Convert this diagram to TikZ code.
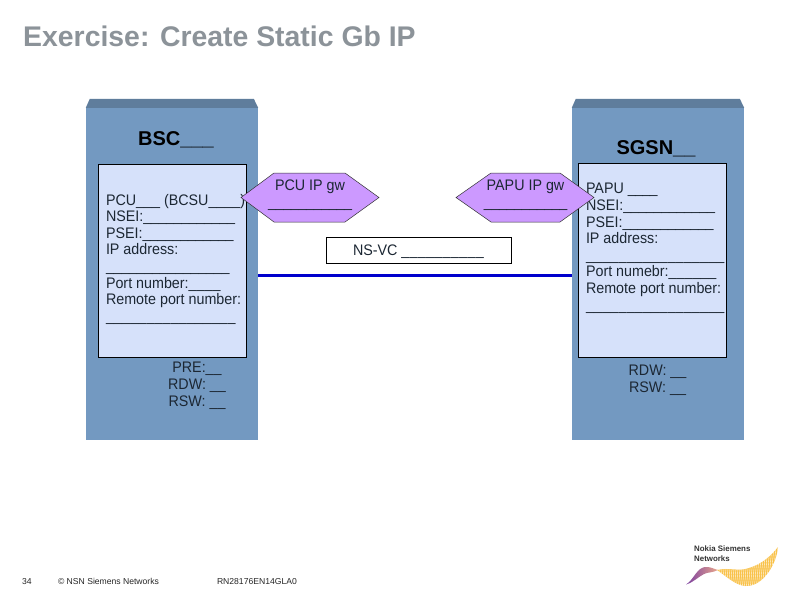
\documentclass[tikz,border=0pt]{standalone}
\usepackage{fontspec}
\setmainfont{Liberation Sans}
\newfontfamily\narrowfont[FakeStretch=0.935]{Liberation Sans}
\usetikzlibrary{shapes.geometric,calc}
\definecolor{bodyblue}{HTML}{7399C1}
\definecolor{topblue}{HTML}{5F7D9C}
\definecolor{innerblue}{HTML}{D6E1FA}
\definecolor{hexviolet}{HTML}{CC99FF}
\definecolor{linkblue}{HTML}{0000CC}
\definecolor{titlegray}{HTML}{8C9399}
\definecolor{labelink}{HTML}{1C2733}
\definecolor{logogold}{HTML}{F9C24A}
\definecolor{logopurple}{HTML}{7B3FA0}
\definecolor{logopink}{HTML}{E8A58C}
% #1 = kern between underscores, #2 = how many
\newcommand\us[2][0pt]{\foreach \k in {1,...,#2}{\_\kern#1}}
\tikzset{
  x=1pt,y=-1pt,
  cabinet/.style={draw=none,fill=bodyblue,minimum width=172pt,minimum height=332pt,inner sep=0pt},
  cabtop/.style={fill=topblue,draw=none},
  panel/.style={draw=black,line width=0.7pt,fill=innerblue,inner sep=0pt},
  hexa/.style={draw=black!80,line width=0.5pt,fill=hexviolet},
  lbl/.style={inner sep=0pt,outer sep=0pt,anchor=base west,font=\narrowfont\fontsize{15.3}{16.6}\selectfont,text=labelink,align=left},
  ctr/.style={inner sep=0pt,outer sep=0pt,anchor=base,font=\narrowfont\fontsize{15.3}{16.6}\selectfont,text=labelink,align=center},
  head/.style={inner sep=0pt,outer sep=0pt,anchor=base,font=\bfseries\fontsize{20}{22}\selectfont,text=black},
  foot/.style={inner sep=0pt,outer sep=0pt,anchor=base west,font=\fontsize{8.6}{10}\selectfont,text=black!85},
  linkbox/.style={draw=black,line width=0.7pt,fill=white,minimum width=185pt,minimum height=26pt,inner sep=0pt},
  link/.style={draw=linkblue,line width=3pt},
}
\begin{document}
\begin{tikzpicture}
\useasboundingbox (0,0) rectangle (800,600);
\fill[white] (0,0) rectangle (800,600);
% title
\node[inner sep=0pt,anchor=base west,font=\bfseries\fontsize{28.4}{30}\selectfont,text=titlegray] (title) at (23,46) {Exercise: Create Static Gb IP};
% cabinets
\node[cabinet] (bsc) at (172,274) {};
\fill[cabtop] (bsc.north west) -- ++(4,-9) -- ++(164,0) -- (bsc.north east) -- cycle;
\node[cabinet] (sgsn) at (658,274) {};
\fill[cabtop] (sgsn.north west) -- ++(4,-9) -- ++(164,0) -- (sgsn.north east) -- cycle;
% panels
\node[panel,minimum width=148pt,minimum height=193pt] (bscpanel) at (172.8,260.5) {};
\node[panel,minimum width=148.5pt,minimum height=194pt] (sgsnpanel) at (652.5,260) {};
% link
\node[linkbox] (nsvc) at (418.5,250) {};
\draw[link] ([yshift=-1pt]bsc.east) -- ([yshift=-1pt]sgsn.west);
% texts under the hexagons
\node[head] (bsctitle) at (176,145) {BSC\us{3}};
\node[head] (sgsntitle) at (656,154) {SGSN\us{2}};
\node[lbl] (bsctext) at (106,321.2) {PCU\us{3} (BCSU\us{4})\\NSEI:\us[-0.35pt]{12}\\PSEI:\us[-0.4pt]{12}\\IP address:\\\us[-0.25pt]{16}\\Port number:\us{4}\\Remote port number:\\\us[0.15pt]{16}};
\node[lbl] (sgsntext) at (586,310) {PAPU \us[-0.7pt]{4}\\NSEI:\us[-0.35pt]{12}\\PSEI:\us[-0.4pt]{12}\\IP address:\\\us[0.2pt]{17}\\Port numebr:\us{6}\\Remote port number:\\\us[0.2pt]{17}};
\node[ctr] (bscpar) at (197,406) {PRE:\us{2}\\RDW: \us{2}\\RSW: \us{2}};
\node[ctr] (sgsnpar) at (657.5,392.5) {RDW: \us{2}\\RSW: \us{2}};
\node[lbl] (nstext) at (353,255) {NS-VC \us[0.3pt]{10}};
% hexagons
\path[hexa] (241,197.5) -- (274,173) -- (345,173) -- (379,197.5) -- (345,222) -- (274,222) -- cycle;
\path[hexa] (456,197.5) -- (491,173) -- (560,173) -- (594,197.5) -- (560,222) -- (491,222) -- cycle;
\node[ctr] (pcutext) at (310,207.5) {PCU IP gw\\\us[-0.35pt]{11}};
\node[ctr] (paputext) at (525.5,207.5) {PAPU IP gw\\\us[-0.4pt]{11}};
% footer
\node[foot] (pg) at (22,584.5) {34};
\node[foot] (copy) at (58,584.5) {© NSN Siemens Networks};
\node[foot] (code) at (217,584.5) {RN28176EN14GLA0};
% logo
\node[inner sep=0pt,anchor=north west,align=left,font=\bfseries\fontsize{7.9}{9.2}\selectfont,text=black!80] (logo) at (694,546) {Nokia Siemens\\Networks};
\shade[left color=logopurple,right color=logopink]
  (686,584.5) .. controls (694,580) and (697,566) .. (707,567) .. controls (711,567) and (714,569) .. (718,570)
  .. controls (712,573) and (708,572) .. (704,574) .. controls (698,577) and (694,582) .. (686,584.5) -- cycle;
\begin{scope}
\clip (717,570) .. controls (730,567) and (738,572) .. (749,568) .. controls (762,564) and (771,556) .. (778,547)
  .. controls (777,562) and (764,587) .. (745,586) .. controls (735,585) and (726,576) .. (717,570) -- cycle;
\fill[logogold] (715,545) rectangle (780,590);
\foreach \xx in {716,718,...,782}{\draw[white,line width=0.35pt] (\xx,592) -- (\xx+4,545);}
\end{scope}
\end{tikzpicture}
\end{document}
